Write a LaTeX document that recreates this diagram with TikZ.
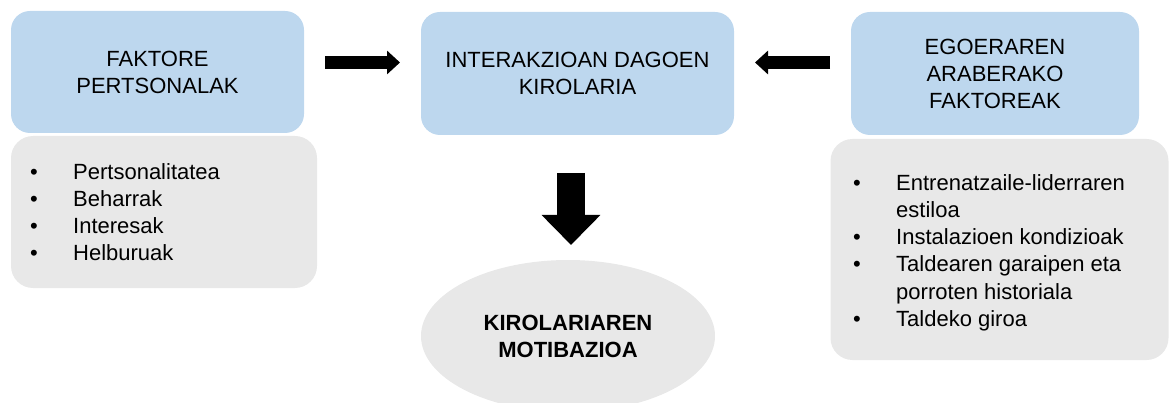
\documentclass[tikz,border=0pt]{standalone}
\usepackage{fontspec}
\setmainfont{Liberation Sans}
\usetikzlibrary{arrows.meta,shapes.geometric}
\definecolor{boxblue}{RGB}{189,215,238}
\definecolor{boxgray}{RGB}{232,232,232}
\newcommand{\txtfont}{\fontsize{22}{27}\selectfont}
\tikzset{
  headbox/.style={fill=boxblue, rounded corners=19pt, align=center, inner sep=0pt,
    font=\txtfont},
  listbox/.style={fill=boxgray, rounded corners=22pt, inner sep=0pt},
  item/.style={anchor=base west, inner sep=0pt, font=\txtfont},
  bul/.style={anchor=base, inner sep=0pt, font=\txtfont},
  fatarrow/.style={line width=13pt, -{Triangle[length=13pt,width=23pt]}},
  downarrow/.style={line width=28pt, -{Triangle[length=30pt,width=57pt]}},
}
\begin{document}
\begin{tikzpicture}[x=1pt,y=-1pt]
\useasboundingbox (0,0) rectangle (1169,403);
% heading boxes
\node[headbox, minimum width=293pt, minimum height=122pt] (L) at (157.5,72) {FAKTORE\\PERTSONALAK};
\node[headbox, minimum width=313pt, minimum height=123pt] (C) at (577.5,73.5) {INTERAKZIOAN DAGOEN\\KIROLARIA};
\node[headbox, minimum width=288pt, minimum height=123pt] (R) at (995,73.5) {EGOERAREN\\ARABERAKO\\FAKTOREAK};
% list boxes
\node[listbox, minimum width=306pt, minimum height=152pt] (LL) at (164,212) {};
\node[listbox, minimum width=338pt, minimum height=221pt] (RL) at (999.5,249.5) {};
% ellipse
\node[ellipse, fill=boxgray, minimum width=294pt, minimum height=152pt, inner sep=0pt,
  align=center, font=\txtfont\bfseries] (M) at (568,336) {KIROLARIAREN\\MOTIBAZIOA};
% left list
\node[bul] (lb1) at (34,180) {•};
\node[item] (lt1) at (73,180) {Pertsonalitatea};
\node[bul] (lb2) at (34,207) {•};
\node[item] (lt2) at (73,207) {Beharrak};
\node[bul] (lb3) at (34,234) {•};
\node[item] (lt3) at (73,234) {Interesak};
\node[bul] (lb4) at (34,261) {•};
\node[item] (lt4) at (73,261) {Helburuak};
% right list
\node[bul] (rb1) at (857,191) {•};
\node[item] (rt1) at (896,191) {Entrenatzaile-liderraren};
\node[item] (rt1b) at (896,218) {estiloa};
\node[bul] (rb2) at (857,245) {•};
\node[item] (rt2) at (896,245) {Instalazioen kondizioak};
\node[bul] (rb3) at (857,272) {•};
\node[item] (rt3) at (896,272) {Taldearen garaipen eta};
\node[item] (rt3b) at (896,299) {porroten historiala};
\node[bul] (rb4) at (857,326) {•};
\node[item] (rt4) at (896,326) {Taldeko giroa};
% arrows
\coordinate (a1s) at (325,62.5);
\coordinate (a1e) at (400,62.5);
\coordinate (a2s) at (830,62.5);
\coordinate (a2e) at (755,62.5);
\coordinate (a3s) at (571,173);
\coordinate (a3e) at (571,245);
\draw[fatarrow] (a1s) -- (a1e);
\draw[fatarrow] (a2s) -- (a2e);
\draw[downarrow] (a3s) -- (a3e);
\end{tikzpicture}
\end{document}
